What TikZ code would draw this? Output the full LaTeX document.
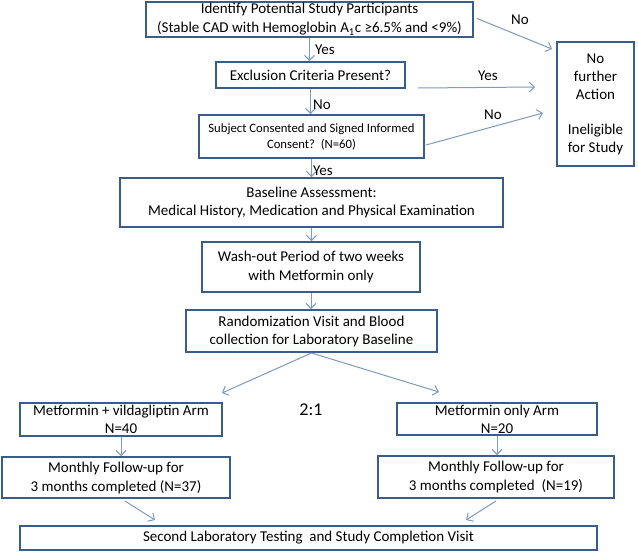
\documentclass[tikz,border=0pt]{standalone}
\usepackage{fontspec}
\setmainfont{Carlito}
\usetikzlibrary{arrows.meta}
\definecolor{boxc}{HTML}{385D8A}
\definecolor{arrc}{HTML}{7B9AC4}
\begin{document}
\begin{tikzpicture}[x=1pt,y=-1pt,
  box/.style={draw=boxc, line width=2pt, align=center, inner sep=0pt, font=\fontsize{15}{19}\selectfont},
  arr/.style={draw=arrc, line width=1pt, -{Straight Barb[length=5pt,width=10pt]}},
  lbl/.style={font=\fontsize{15}{18}\selectfont, inner sep=0pt}]
\path[use as bounding box, fill=white] (0,0) rectangle (638,552);
% main column
\node[box, minimum width=327pt, minimum height=35pt] (b1) at (309.5,19.5)
  {Identify Potential Study Participants\\(Stable CAD with Hemoglobin A\textsubscript{1}c ≥6.5\% and <9\%)};
\node[box, minimum width=189pt, minimum height=26pt] (b2) at (310.5,75) {Exclusion Criteria Present?};
\node[box, minimum width=225pt, minimum height=43pt, font=\fontsize{12.7}{16}\selectfont] (b3) at (311.5,136.5)
  {Subject Consented and Signed Informed\\Consent?\ \ (N=60)};
\node[box, minimum width=383pt, minimum height=49pt, font=\fontsize{15}{18}\selectfont] (b4) at (311.5,202.5)
  {Baseline Assessment:\\Medical History, Medication and Physical Examination};
\node[box, minimum width=218pt, minimum height=50pt] (b5) at (311,267)
  {Wash-out Period of two weeks\\with Metformin only};
\node[box, minimum width=251pt, minimum height=42pt, font=\fontsize{15}{18}\selectfont] (b6) at (311.5,331)
  {Randomization Visit and Blood\\collection for Laboratory Baseline};
% right box
\node[box, minimum width=77pt, minimum height=124pt, font=\fontsize{15}{18}\selectfont] (nb) at (595.5,104)
  {No\\further\\Action\\[17pt]Ineligible\\for Study};
% arms
\node[box, minimum width=202pt, minimum height=33pt, font=\fontsize{15}{18}\selectfont] (l1) at (121,419.5)
  {Metformin + vildagliptin Arm\\N=40};
\node[box, minimum width=200pt, minimum height=32pt, font=\fontsize{15}{18}\selectfont] (r1) at (497,419)
  {Metformin only Arm\\N=20};
\node[box, minimum width=228pt, minimum height=41pt] (l2) at (116,477.5)
  {Monthly Follow-up for\\3 months completed (N=37)};
\node[box, minimum width=236pt, minimum height=42pt] (r2) at (496,477)
  {Monthly Follow-up for\\3 months completed\ \ (N=19)};
\node[box, minimum width=577pt, minimum height=24pt] (fin) at (308.5,538)
  {Second Laboratory Testing\ \ and Study Completion Visit};
\node[lbl, font=\fontsize{18}{20}\selectfont] (ratio) at (311,410) {2:1};
% arrow end points
\coordinate (t1) at (552,49);
\coordinate (t2) at (535,87);
\coordinate (t3) at (543,113);
\coordinate (tl) at (222,393);
\coordinate (tr) at (439,392);
\coordinate (t5) at (155,520);
\coordinate (t6) at (466,520);
% vertical connectors
\draw[arr] (b1.south) -- (b1.south |- b2.north);
\draw[arr] (b2.south) -- (b2.south |- b3.north);
\draw[arr] (b3.south) -- (b3.south |- b4.north);
\draw[arr] (b4.south) -- (b4.south |- b5.north);
\draw[arr] (b5.south) -- (b5.south |- b6.north);
\draw[arr] (l1.south) -- (l1.south |- l2.north);
\draw[arr] (r1.south) -- (r1.south |- r2.north);
% side connectors
\draw[arr] ([xshift=3pt,yshift=1pt]b1.east) -- (t1);
\draw[arr] ([xshift=12pt,yshift=1pt]b2.south east) -- (t2);
\draw[arr] ([xshift=1pt,yshift=-8.5pt]b3.east) -- (t3);
\draw[arr] (b6.south) -- (tl);
\draw[arr] (b6.south) -- (tr);
\draw[arr] ([xshift=9pt,yshift=-2pt]l2.south) -- (t5);
\draw[arr] ([yshift=-2pt]r2.south) -- (t6);
% labels
\node[lbl, anchor=west] (y1) at (315,50) {Yes};
\node[lbl, anchor=west] (n1) at (313,105) {No};
\node[lbl, anchor=west] (y3) at (313,171) {Yes};
\node[lbl] (n0) at (520,20) {No};
\node[lbl] (y2) at (488,76) {Yes};
\node[lbl] (n2) at (493,115) {No};
\end{tikzpicture}
\end{document}
